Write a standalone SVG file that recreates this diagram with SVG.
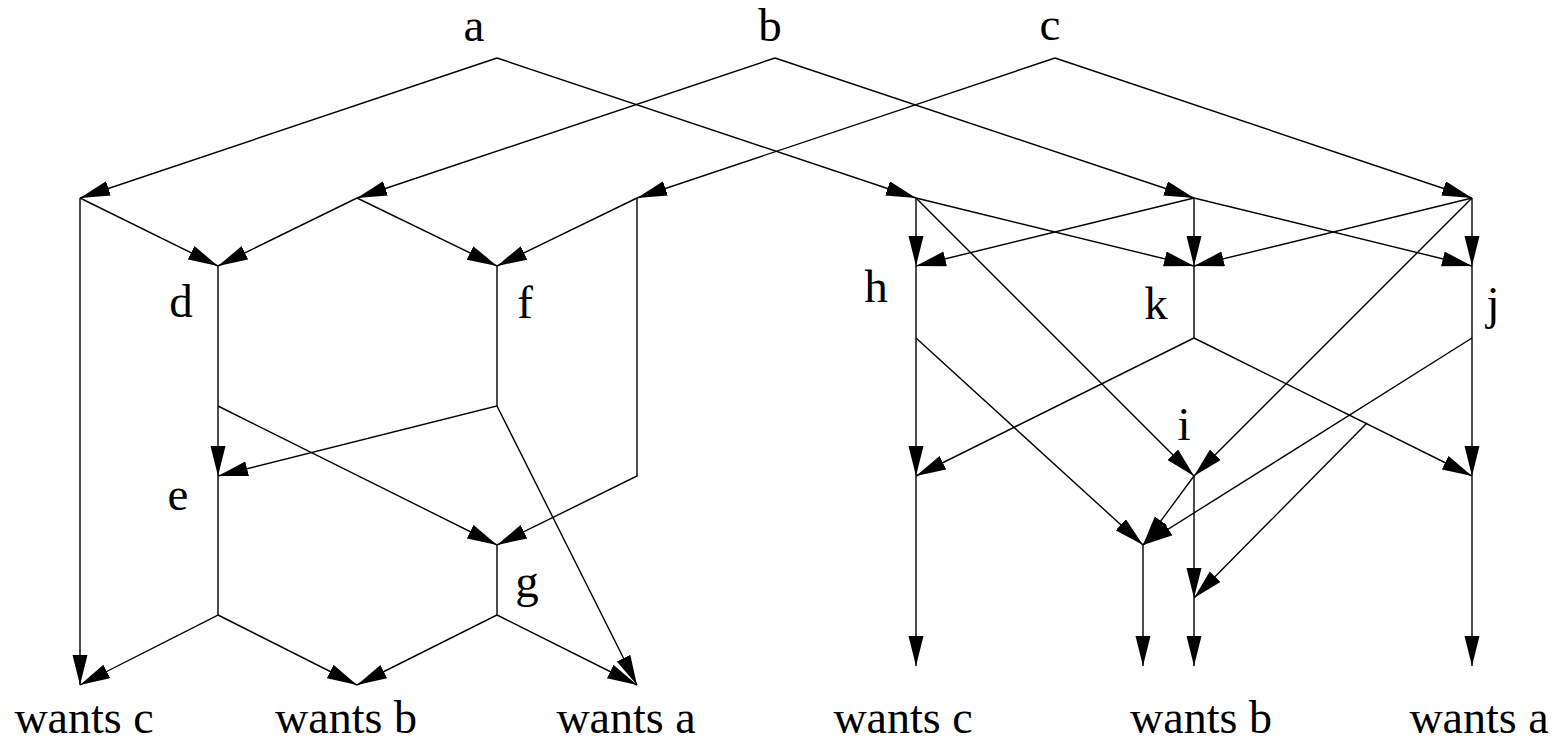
<svg xmlns="http://www.w3.org/2000/svg" width="1558" height="743" viewBox="0 0 1558 743">
<style>
  .e { fill: none; stroke: #000; stroke-width: 1.4; marker-end: url(#ah); }
  text { font-family: "Liberation Serif", "Times New Roman", serif; font-size: 47px; fill: #000; text-anchor: middle; }
  .out text { font-size: 46px; }
</style>
<defs>
  <marker id="ah" markerUnits="userSpaceOnUse" markerWidth="31" markerHeight="16" refX="30" refY="7.5" orient="auto" viewBox="0 0 31 16">
    <path d="M0,0 L30,7.5 L0,15 z" fill="#000"/>
  </marker>
</defs>
<rect width="1558" height="743" fill="#fff"/>
<g id="connectors">
  <path class="e" d="M497,58 L80,198"/>
  <path class="e" d="M497,58 L916,198"/>
  <path class="e" d="M775,58 L357,198"/>
  <path class="e" d="M775,58 L1194,198"/>
  <path class="e" d="M1055,58 L637,198"/>
  <path class="e" d="M1055,58 L1472,198"/>
  <path class="e" d="M80,198 L80,685"/>
  <path class="e" d="M80,198 L218,266"/>
  <path class="e" d="M357,198 L218,266"/>
  <path class="e" d="M357,198 L497,266"/>
  <path class="e" d="M637,198 L497,266"/>
  <path class="e" d="M637,198 L637,476 L497,545"/>
  <path class="e" d="M218,266 L218,406 L218,476"/>
  <path class="e" d="M218,406 L497,545"/>
  <path class="e" d="M497,266 L497,406 L218,476"/>
  <path class="e" d="M497,406 L637,685"/>
  <path class="e" d="M218,476 L218,615 L80,685"/>
  <path class="e" d="M218,615 L357,685"/>
  <path class="e" d="M497,545 L497,615 L357,685"/>
  <path class="e" d="M497,615 L637,685"/>
  <path class="e" d="M916,198 L916,266"/>
  <path class="e" d="M916,198 L1194,266"/>
  <path class="e" d="M916,198 L1194,476"/>
  <path class="e" d="M1194,198 L916,266"/>
  <path class="e" d="M1194,198 L1194,266"/>
  <path class="e" d="M1194,198 L1472,266"/>
  <path class="e" d="M1472,198 L1194,266"/>
  <path class="e" d="M1472,198 L1472,266"/>
  <path class="e" d="M1472,198 L1194,476"/>
  <path class="e" d="M916,266 L916,338 L916,476"/>
  <path class="e" d="M916,338 L1143,545"/>
  <path class="e" d="M1194,266 L1194,338 L916,476"/>
  <path class="e" d="M1194,338 L1472,476"/>
  <path class="e" d="M1367,423 L1194,598"/>
  <path class="e" d="M1472,266 L1472,338 L1472,476"/>
  <path class="e" d="M1472,338 L1143,545"/>
  <path class="e" d="M1194,476 L1143,545"/>
  <path class="e" d="M1194,476 L1194,598"/>
  <path class="e" d="M916,476 L916,666"/>
  <path class="e" d="M1143,545 L1143,666"/>
  <path class="e" d="M1194,598 L1194,666"/>
  <path class="e" d="M1472,476 L1472,666"/>
</g>
<g id="node-a"><text x="474" y="41">a</text></g>
<g id="node-b"><text x="770" y="41">b</text></g>
<g id="node-c"><text x="1050" y="40">c</text></g>
<g id="node-d"><text x="181" y="317">d</text></g>
<g id="node-f"><text x="525" y="318">f</text></g>
<g id="node-e"><text x="178" y="510">e</text></g>
<g id="node-g"><text x="527" y="597">g</text></g>
<g id="node-h"><text x="876" y="302">h</text></g>
<g id="node-k"><text x="1156" y="319">k</text></g>
<g id="node-j"><text x="1493" y="319">j</text></g>
<g id="node-i"><text x="1184" y="440">i</text></g>
<g class="out">
<g id="out-1"><text x="84" y="733">wants c</text></g>
<g id="out-2"><text x="346" y="733">wants b</text></g>
<g id="out-3"><text x="626" y="733">wants a</text></g>
<g id="out-4"><text x="903" y="733">wants c</text></g>
<g id="out-5"><text x="1201" y="733">wants b</text></g>
<g id="out-6"><text x="1479" y="733">wants a</text></g>
</g>
</svg>
